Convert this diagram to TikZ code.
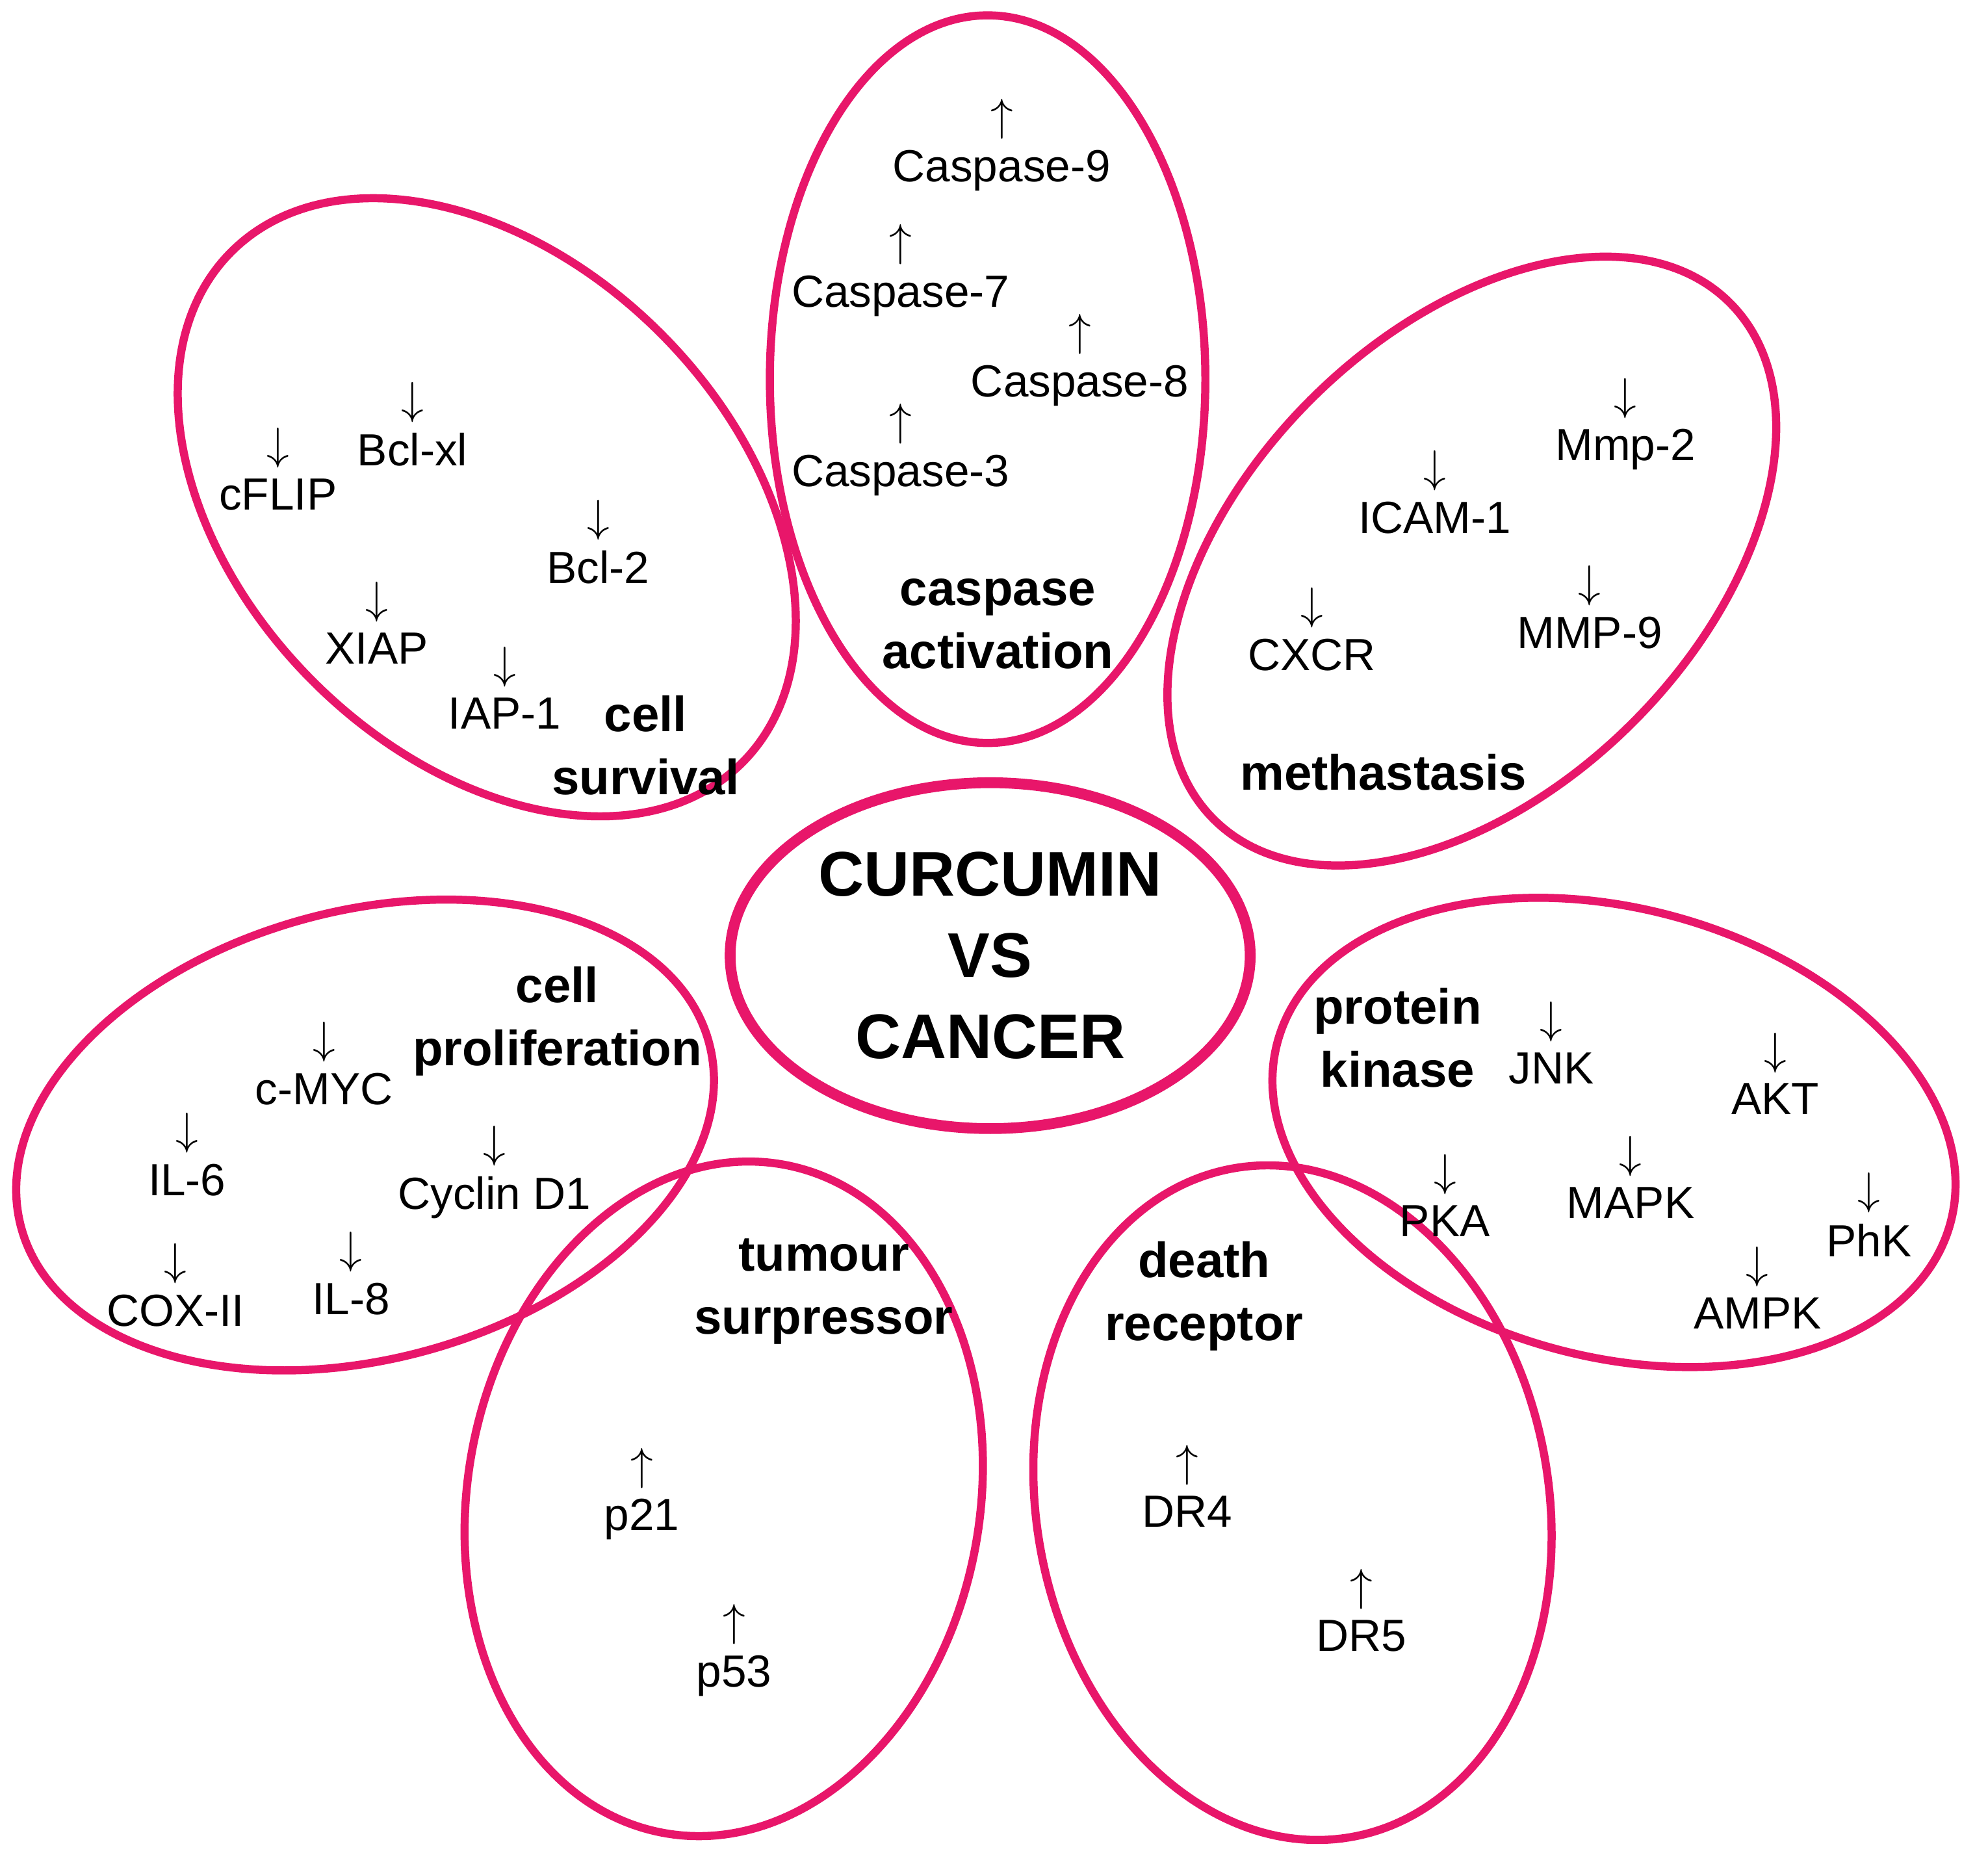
\documentclass[tikz,border=0pt]{standalone}
\usepackage{fontspec}
\setmainfont{Liberation Sans}
\usetikzlibrary{positioning}
\definecolor{petalpink}{RGB}{232,22,106}
\tikzset{petal/.style={draw=petalpink, line width=1.8pt}}
\tikzset{gene/.style={font=\fontsize{10}{12}\selectfont, inner sep=1pt}}
\tikzset{head/.style={font=\bfseries\fontsize{11}{14}\selectfont, align=center, inner sep=1pt}}
\tikzset{up/.style={label={[inner sep=0pt, yshift=1pt]above:$\uparrow$}}}
\tikzset{dn/.style={label={[inner sep=0pt, yshift=1pt]above:$\downarrow$}}}

\begin{document}
\begin{tikzpicture}[x=0.01cm, y=0.01cm]
    \useasboundingbox (0,0) rectangle (1552,1446);
    % petals
    \draw[petal, line width=2.4pt] (773,700) ellipse [x radius=203, y radius=135];
    \draw[petal] (771,1150) ellipse [x radius=170, y radius=284];
    \draw[petal, rotate around={-45:(380,1050)}] (380,1050) ellipse [x radius=282, y radius=192];
    \draw[petal, rotate around={45:(1149,1008)}] (1149,1008) ellipse [x radius=285, y radius=178];
    \draw[petal, rotate around={15:(285,560)}] (285,560) ellipse [x radius=278, y radius=175];
    \draw[petal, rotate around={-15:(1260,562)}] (1260,562) ellipse [x radius=272, y radius=175];
    \draw[petal, rotate around={80:(565,276)}] (565,276) ellipse [x radius=265, y radius=200];
    \draw[petal, rotate around={100:(1009,273)}] (1009,273) ellipse [x radius=265, y radius=200];

    \node[head, font=\bfseries\fontsize{14}{18}\selectfont] (core) at (773,700) {CURCUMIN\\VS\\CANCER};

    % caspase activation
    \node[gene,up] (c9) at (782,1313) {Caspase-9};
    \node[gene,up] (c7) at (703,1215) {Caspase-7};
    \node[gene,up] (c8) at (843,1145) {Caspase-8};
    \node[gene,up] (c3) at (703,1075) {Caspase-3};
    \node[head] (casp) at (779,959) {caspase\\activation};

    % cell survival
    \node[gene,dn] (flip) at (217,1060) {cFLIP};
    \node[gene,dn] (bclxl) at (322,1095) {Bcl-xl};
    \node[gene,dn] (bcl2) at (467,1003) {Bcl-2};
    \node[gene,dn] (xiap) at (294,940) {XIAP};
    \node[gene,dn] (iap) at (394,889) {IAP-1};
    \node[head] (surv) at (504,864) {cell\\survival};

    % methastasis
    \node[gene,dn] (icam) at (1120,1042) {ICAM-1};
    \node[gene,dn] (mmp2) at (1269,1095) {Mmp-2};
    \node[gene,dn] (cxcr) at (1024,935) {CXCR};
    \node[gene,dn] (mmp9) at (1241,952) {MMP-9};
    \node[head] (meta) at (1080,843) {methastasis};

    % cell proliferation
    \node[gene,dn] (myc) at (253,596) {c-MYC};
    \node[gene,dn] (il6) at (146,525) {IL-6};
    \node[gene,dn] (cyc) at (386,511) {Cyclin D1};
    \node[gene,dn] (cox) at (137,423) {COX-II};
    \node[gene,dn] (il8) at (274,432) {IL-8};
    \node[head] (prol) at (435,649) {cell\\proliferation};

    % protein kinase
    \node[head] (kin) at (1091,636) {protein\\kinase};
    \node[gene,dn] (jnk) at (1211,612) {JNK};
    \node[gene,dn] (akt) at (1386,588) {AKT};
    \node[gene,dn] (pka) at (1128,493) {PKA};
    \node[gene,dn] (mapk) at (1273,507) {MAPK};
    \node[gene,dn] (phk) at (1459,478) {PhK};
    \node[gene,dn] (ampk) at (1372,421) {AMPK};

    % tumour surpressor
    \node[head] (tum) at (643,438) {tumour\\surpressor};
    \node[gene,up] (p21) at (501,260) {p21};
    \node[gene,up] (p53) at (573,138) {p53};

    % death receptor
    \node[head] (death) at (940,434) {death\\receptor};
    \node[gene,up] (dr4) at (927,266) {DR4};
    \node[gene,up] (dr5) at (1063,169) {DR5};
\end{tikzpicture}
\end{document}
